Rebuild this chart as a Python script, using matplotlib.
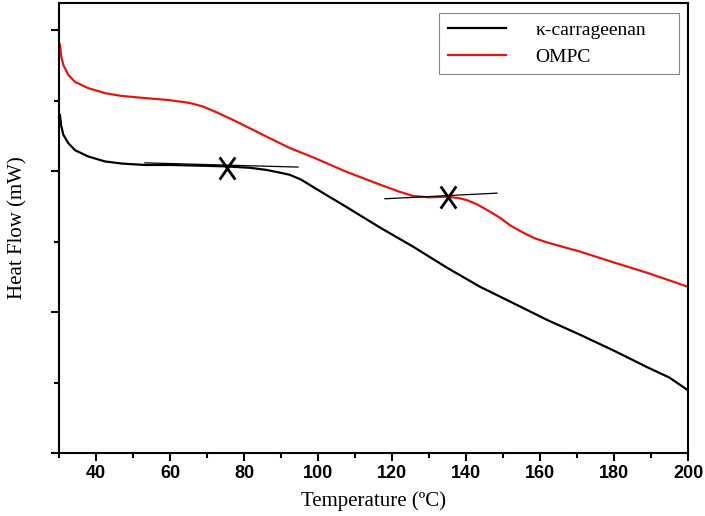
import numpy as np
import matplotlib
matplotlib.use("Agg")
import matplotlib.pyplot as plt
from matplotlib.path import Path
from matplotlib.ticker import MultipleLocator

# DSC traces (temperature in C, heat flow in arbitrary units)
T_kc = [30.27, 30.54, 31.16, 32.51, 34.32, 37.92, 42.43, 46.95, 53.24, 60.0, 68.1, 75.0,
        81.6, 86.0, 88.9, 92.4, 95.5, 98.6, 103.0, 107.8, 116.8, 125.7, 134.9, 143.8,
        152.7, 161.9, 170.8, 179.7, 188.9, 195.0, 200]
hf_kc = [4.80, 4.66, 4.52, 4.40, 4.30, 4.21, 4.14, 4.11, 4.09, 4.09, 4.08, 4.07,
         4.05, 4.02, 3.99, 3.95, 3.88, 3.78, 3.64, 3.49, 3.20, 2.93, 2.63, 2.36,
         2.13, 1.89, 1.68, 1.46, 1.22, 1.07, 0.89]

T_ompc = [30.27, 30.54, 31.16, 32.51, 34.32, 37.92, 42.43, 46.95, 53.24, 60.0, 65.4, 68.9,
          72.5, 77.0, 86.2, 92.4, 98.6, 107.8, 116.8, 122.0, 125.7, 130.0, 134.9, 138.0,
          140.3, 143.0, 145.7, 149.2, 152.0, 155.4, 158.5, 161.9, 170.8, 179.7, 188.9, 200]
hf_ompc = [5.80, 5.65, 5.51, 5.37, 5.27, 5.18, 5.11, 5.07, 5.04, 5.01, 4.97, 4.92,
           4.84, 4.73, 4.49, 4.33, 4.20, 3.99, 3.81, 3.71, 3.65, 3.63, 3.64, 3.62,
           3.59, 3.53, 3.45, 3.34, 3.23, 3.13, 3.05, 2.99, 2.86, 2.71, 2.56, 2.36]

# onset tangents and marked transition points
tan_kc_T = [53.2, 94.6]
tan_kc_hf = [4.12, 4.06]
tan_om_T = [118.1, 148.4]
tan_om_hf = [3.61, 3.69]
mark_T = [75.4, 135.1]
mark_hf = [4.05, 3.63]

fig = plt.figure(figsize=(7.05, 5.16), dpi=100)
ax = fig.add_axes([0.0837, 0.1221, 0.8922, 0.8721])

ax.plot(T_kc, hf_kc, color="black", lw=1.6, solid_joinstyle="round",
        label="\u03ba-carrageenan")
ax.plot(T_ompc, hf_ompc, color="#e8140f", lw=1.6, solid_joinstyle="round",
        label="OMPC")
ax.plot(tan_kc_T, tan_kc_hf, color="black", lw=0.9)
ax.plot(tan_om_T, tan_om_hf, color="black", lw=0.9)

xmark = Path([(-0.7, -1), (0.7, 1), (-0.7, 1), (0.7, -1)],
             [Path.MOVETO, Path.LINETO, Path.MOVETO, Path.LINETO])
ax.plot(mark_T, mark_hf, ls="none", marker=xmark, ms=16, mew=2.0, color="black")

ax.set_xlim(30, 200)
ax.set_ylim(0, 6.39)
ax.xaxis.set_major_locator(MultipleLocator(20))
ax.xaxis.set_minor_locator(MultipleLocator(10))
ax.yaxis.set_major_locator(MultipleLocator(2))
ax.yaxis.set_minor_locator(MultipleLocator(1))
ax.set_xticks([40, 60, 80, 100, 120, 140, 160, 180, 200])
ax.set_yticklabels([])
ax.tick_params(which="major", length=6, width=1.5, direction="out", pad=3)
ax.tick_params(which="minor", length=3.5, width=1.5, direction="out")
for lab in ax.get_xticklabels():
    lab.set_fontfamily("Liberation Sans")
    lab.set_fontweight("bold")
    lab.set_fontsize(13)
for s in ax.spines.values():
    s.set_linewidth(1.5)

ax.set_xlabel("Temperature (ºC)", family="Liberation Serif", fontsize=15, labelpad=6)
ax.set_ylabel("Heat Flow (mW)", family="Liberation Serif", fontsize=15, labelpad=14)

# legend box stretched to the width seen in the reference, extra room on the right
leg = ax.legend(loc="upper left", bbox_to_anchor=(0.604, 0.80, 0.3816, 0.178),
                mode="expand", prop={"family": "Liberation Serif", "size": 14},
                fancybox=False, edgecolor="#888888", framealpha=1,
                handlelength=3.0, handletextpad=1.5, labelspacing=0.45,
                borderpad=0.45, borderaxespad=0)
leg.get_frame().set_linewidth(0.8)

fig.savefig("out.png", dpi=100)
